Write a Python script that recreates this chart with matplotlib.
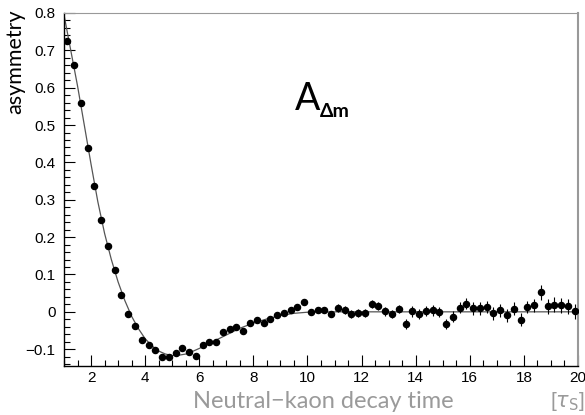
import matplotlib
matplotlib.use("Agg")
import matplotlib.pyplot as plt
from matplotlib.ticker import MultipleLocator

# measured asymmetry, bins of 0.25 tau_S starting at 1.125
t_data = [1.125 + 0.25 * i for i in range(76)]
asym = [0.724, 0.660, 0.558, 0.438, 0.337, 0.245, 0.177, 0.111, 0.045, -0.005,
        -0.037, -0.076, -0.089, -0.102, -0.121, -0.121, -0.111, -0.096, -0.108, -0.117,
        -0.090, -0.081, -0.080, -0.053, -0.046, -0.040, -0.051, -0.029, -0.023, -0.029,
        -0.019, -0.008, -0.003, 0.005, 0.013, 0.026, -0.001, 0.005, 0.005, -0.005,
        0.011, 0.005, -0.005, -0.003, -0.003, 0.021, 0.016, 0.001, -0.006, 0.007,
        -0.033, 0.001, -0.006, 0.002, 0.004, 0.000, -0.033, -0.013, 0.011, 0.022,
        0.009, 0.009, 0.013, -0.004, 0.004, -0.009, 0.008, -0.021, 0.013, 0.017,
        0.053, 0.015, 0.019, 0.018, 0.015, 0.001]
err = [0.004] * 20 + [0.005] * 10 + [0.008] * 10 + [0.011] * 10 + \
      [0.014] * 10 + [0.017] * 10 + [0.020] * 6

# fitted curve
t_fit = [1.0, 1.25, 1.5, 1.75, 2.0, 2.25, 2.5, 2.75, 3.0, 3.25, 3.5, 3.75, 4.0,
         4.25, 4.5, 4.75, 5.0, 5.25, 5.5, 5.75, 6.0, 6.5, 7.0, 7.5, 8.0, 8.5,
         9.0, 9.5, 10.0, 11.0, 20.0]
a_fit = [0.795, 0.700, 0.605, 0.500, 0.395, 0.295, 0.210, 0.140, 0.080, 0.030,
         -0.012, -0.045, -0.072, -0.091, -0.105, -0.113, -0.117, -0.116, -0.113,
         -0.106, -0.098, -0.080, -0.062, -0.044, -0.030, -0.019, -0.010, -0.004,
         -0.001, 0.0, 0.0]

plt.rcParams['font.family'] = ['Liberation Sans', 'DejaVu Sans']

fig = plt.figure(figsize=(5.85, 4.15), dpi=100)
ax = fig.add_axes([64 / 585, 1 - 366 / 415, 514 / 585, 353 / 415])

ax.plot(t_fit, a_fit, color='#555555', lw=0.9, zorder=2)
ax.errorbar(t_data, asym, yerr=err, fmt='o', color='black', ms=4.4,
            elinewidth=0.8, capsize=0, zorder=3)

ax.set_xlim(1, 20)
ax.set_ylim(-0.145, 0.8)
ax.xaxis.set_major_locator(MultipleLocator(2))
ax.xaxis.set_minor_locator(MultipleLocator(0.5))
ax.yaxis.set_major_locator(MultipleLocator(0.1))
ax.yaxis.set_minor_locator(MultipleLocator(0.02))
ax.tick_params(which='both', direction='in', top=False, right=False, labelsize=11)
ax.tick_params(which='major', length=8, width=0.8)
ax.tick_params(which='minor', length=4, width=0.8)
ax.tick_params(axis='y', pad=6)
ax.set_yticks([-0.1, 0, 0.1, 0.2, 0.3, 0.4, 0.5, 0.6, 0.7, 0.8])
ax.set_yticklabels(['\u22120.1', '0', '0.1', '0.2', '0.3', '0.4', '0.5', '0.6', '0.7', '0.8'])

for s in ['top', 'right']:
    ax.spines[s].set_color('#999999')
ax.spines['right'].set_linewidth(1.5)
for s in ['left', 'bottom']:
    ax.spines[s].set_linewidth(1.0)

fig.text(15 / 585, 1 - 9 / 415, 'asymmetry', rotation=90, ha='center', va='top',
         fontsize=15.5, family=['Lato', 'DejaVu Sans'])
fig.text(193 / 585, 1 - 401 / 415, 'Neutral\u2212kaon decay time', ha='left', va='center',
         fontsize=17, color='#9a9a9a', family=['Lato', 'DejaVu Sans'])
fig.text(584 / 585, 1 - 401 / 415, r'[$\tau_{\rm S}$]', ha='right', va='center',
         fontsize=15, color='#9a9a9a')

ax.text(9.55, 0.54, 'A', fontsize=27, family=['Lato', 'DejaVu Sans'],
        ha='left', va='baseline')
ax.text(10.45, 0.522, '\u0394m', fontsize=14, fontweight='bold',
        family=['Lato', 'DejaVu Sans'], ha='left', va='baseline')

fig.savefig('out.png', dpi=100)
